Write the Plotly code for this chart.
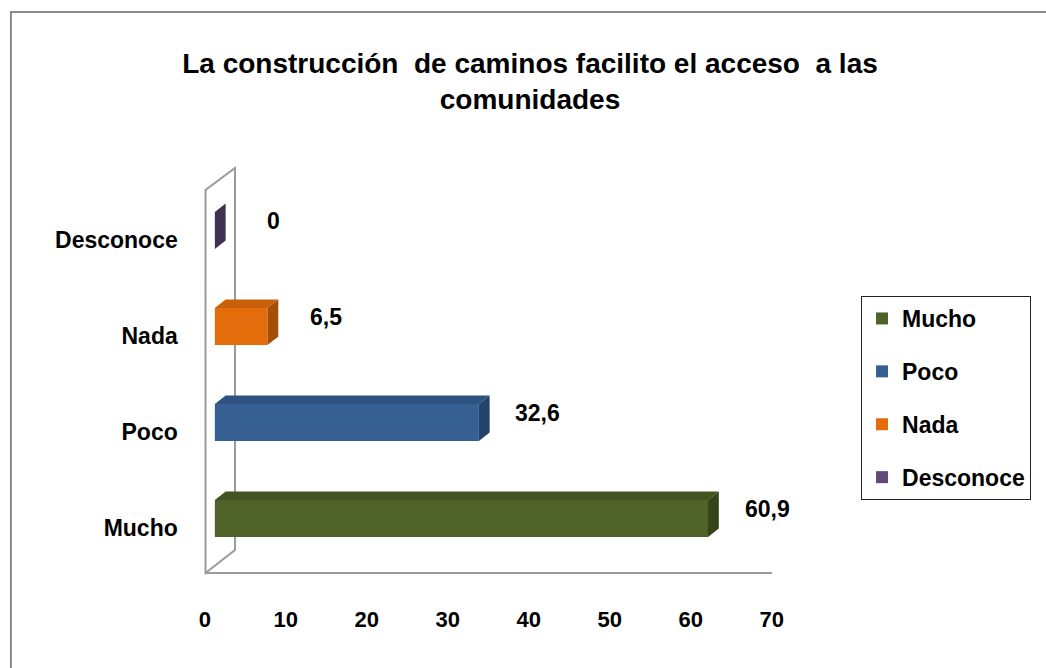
import plotly.graph_objects as go

# ---------------- data ----------------
categories = ["Mucho", "Poco", "Nada", "Desconoce"]
values = [60.9, 32.6, 6.5, 0]
value_labels = ["60,9", "32,6", "6,5", "0"]
x_ticks = [0, 10, 20, 30, 40, 50, 60, 70]
title_text = "La construcción  de caminos facilito el acceso  a las<br>comunidades"

front_colors = ["#4F6228", "#376092", "#E46C0A", "#604A7B"]
top_colors = ["#435420", "#2E5280", "#C95F09", "#4E3D66"]
side_colors = ["#364517", "#25426A", "#A54E07", "#403151"]

# ---------------- geometry (pixels) ----------------
W, H = 1046, 668
FONT = "Liberation Sans, Arial, sans-serif"

PXU = 8.24          # px per unit on x
X0_BAR = 212.5      # pixel of value 0 for bars (mid depth)
X0_TICK = 202.3     # pixel of value 0 at front plane (tick labels)
Y_PX0 = 518.5       # pixel of first category front-face center
PY = 96.0           # px per category

def fx(p):
    return p / W

def fy(p):
    return 1 - p / H

bar_range = [-1, 72]
bar_dom = [fx(X0_BAR + bar_range[0] * PXU), fx(X0_BAR + bar_range[1] * PXU)]
tick_range = [0, 70]
tick_dom = [fx(X0_TICK + tick_range[0] * PXU), fx(X0_TICK + tick_range[1] * PXU)]
y_range = [-0.6, 3.6]
y_dom = [fy(Y_PX0 - y_range[0] * PY), fy(Y_PX0 - y_range[1] * PY)]

BW = 37 / PY        # bar thickness in category units
DX = 11 / PXU       # depth offset x (units)
DY = 8.5 / PY       # depth offset y (units)
LABEL_DY = 9 / PY   # category label offset below bar

fig = go.Figure()

# front faces (real bars)
for i, (c, v) in enumerate(zip(categories, values)):
    fig.add_trace(go.Bar(
        x=[v], y=[i], base=0, orientation="h", width=BW,
        name=c, legendgroup=c, marker=dict(color=front_colors[i], line=dict(width=0)),
        xaxis="x", yaxis="y", hoverinfo="x+name",
    ))

# 3D top & side faces computed from the values
for i, v in enumerate(values):
    yt = i + BW / 2
    yb = i - BW / 2
    top_x = [0, v, v + DX, DX, 0]
    top_y = [yt, yt, yt + DY, yt + DY, yt]
    fig.add_trace(go.Scatter(
        x=top_x, y=top_y, fill="toself", mode="lines",
        line=dict(width=0, color=top_colors[i]), fillcolor=top_colors[i],
        showlegend=False, hoverinfo="skip", xaxis="x", yaxis="y",
    ))
    side_x = [v, v, v + DX, v + DX, v]
    side_y = [yb, yt, yt + DY, yb + DY, yb]
    fig.add_trace(go.Scatter(
        x=side_x, y=side_y, fill="toself", mode="lines",
        line=dict(width=0, color=side_colors[i]), fillcolor=side_colors[i],
        showlegend=False, hoverinfo="skip", xaxis="x", yaxis="y",
    ))

# value labels
for i, (v, t) in enumerate(zip(values, value_labels)):
    fig.add_annotation(
        x=v, y=i, xref="x", yref="y", text=t, showarrow=False,
        xanchor="center", yanchor="middle", xshift=59, yshift=10,
        font=dict(family=FONT, size=23, color="black", weight="bold"),
    )

# walls of the 3D frame
wall = (f"M {fx(203)},{fy(573)} L {fx(203)},{fy(190)} L {fx(233)},{fy(168)} "
        f"L {fx(233)},{fy(550)} Z")
shapes = [
    dict(type="path", path=wall, xref="paper", yref="paper",
         line=dict(color="#9a9a9a", width=2), layer="below"),
    dict(type="rect", x0=fx(5), y0=fy(12), x1=1.05, y1=-0.05, xref="paper", yref="paper",
         line=dict(color="#8a8a8a", width=2), layer="below"),
]

fig.update_layout(
    width=W, height=H, autosize=False,
    margin=dict(l=0, r=0, t=0, b=0),
    paper_bgcolor="white", plot_bgcolor="rgba(0,0,0,0)",
    font=dict(family=FONT, color="black", weight="bold"),
    title=dict(text=title_text, x=fx(530), y=fy(73), xanchor="center", yanchor="middle",
               font=dict(family=FONT, size=28, color="black", weight="bold")),
    barmode="overlay",
    shapes=shapes,
    showlegend=True,
    legend=dict(
        x=fx(870), y=fy(296), xanchor="left", yanchor="top",
        bordercolor="#222222", borderwidth=1, bgcolor="white",
        font=dict(family=FONT, size=23, color="black", weight="bold"),
        traceorder="grouped", tracegroupgap=20,
    ),
    xaxis=dict(domain=bar_dom, range=bar_range, visible=False, fixedrange=True),
    xaxis2=dict(domain=tick_dom, range=tick_range, anchor="free", position=fy(573),
                tickvals=x_ticks, ticktext=[str(t) for t in x_ticks],
                showline=True, linecolor="#9a9a9a", linewidth=2, showgrid=False,
                zeroline=False, ticks="", ticklabelstandoff=27,
                tickfont=dict(family=FONT, size=22, color="black", weight="bold")),
    yaxis=dict(domain=y_dom, range=y_range, anchor="x",
               tickvals=[i - LABEL_DY for i in range(len(categories))], ticktext=categories,
               showgrid=False, zeroline=False, showline=False, ticks="",
               ticklabelstandoff=28,
               tickfont=dict(family=FONT, size=23, color="black", weight="bold")),
)

# invisible trace to activate the tick axis (front plane)
fig.add_trace(go.Scatter(x=[0, 70], y=[0, 0], xaxis="x2", yaxis="y", mode="markers",
                         marker=dict(opacity=0), showlegend=False, hoverinfo="skip"))

fig.write_html(
    "out.html",
    config={"displayModeBar": False, "responsive": False},
    post_script="document.body.style.margin='0';document.body.style.overflow='hidden';",
)
